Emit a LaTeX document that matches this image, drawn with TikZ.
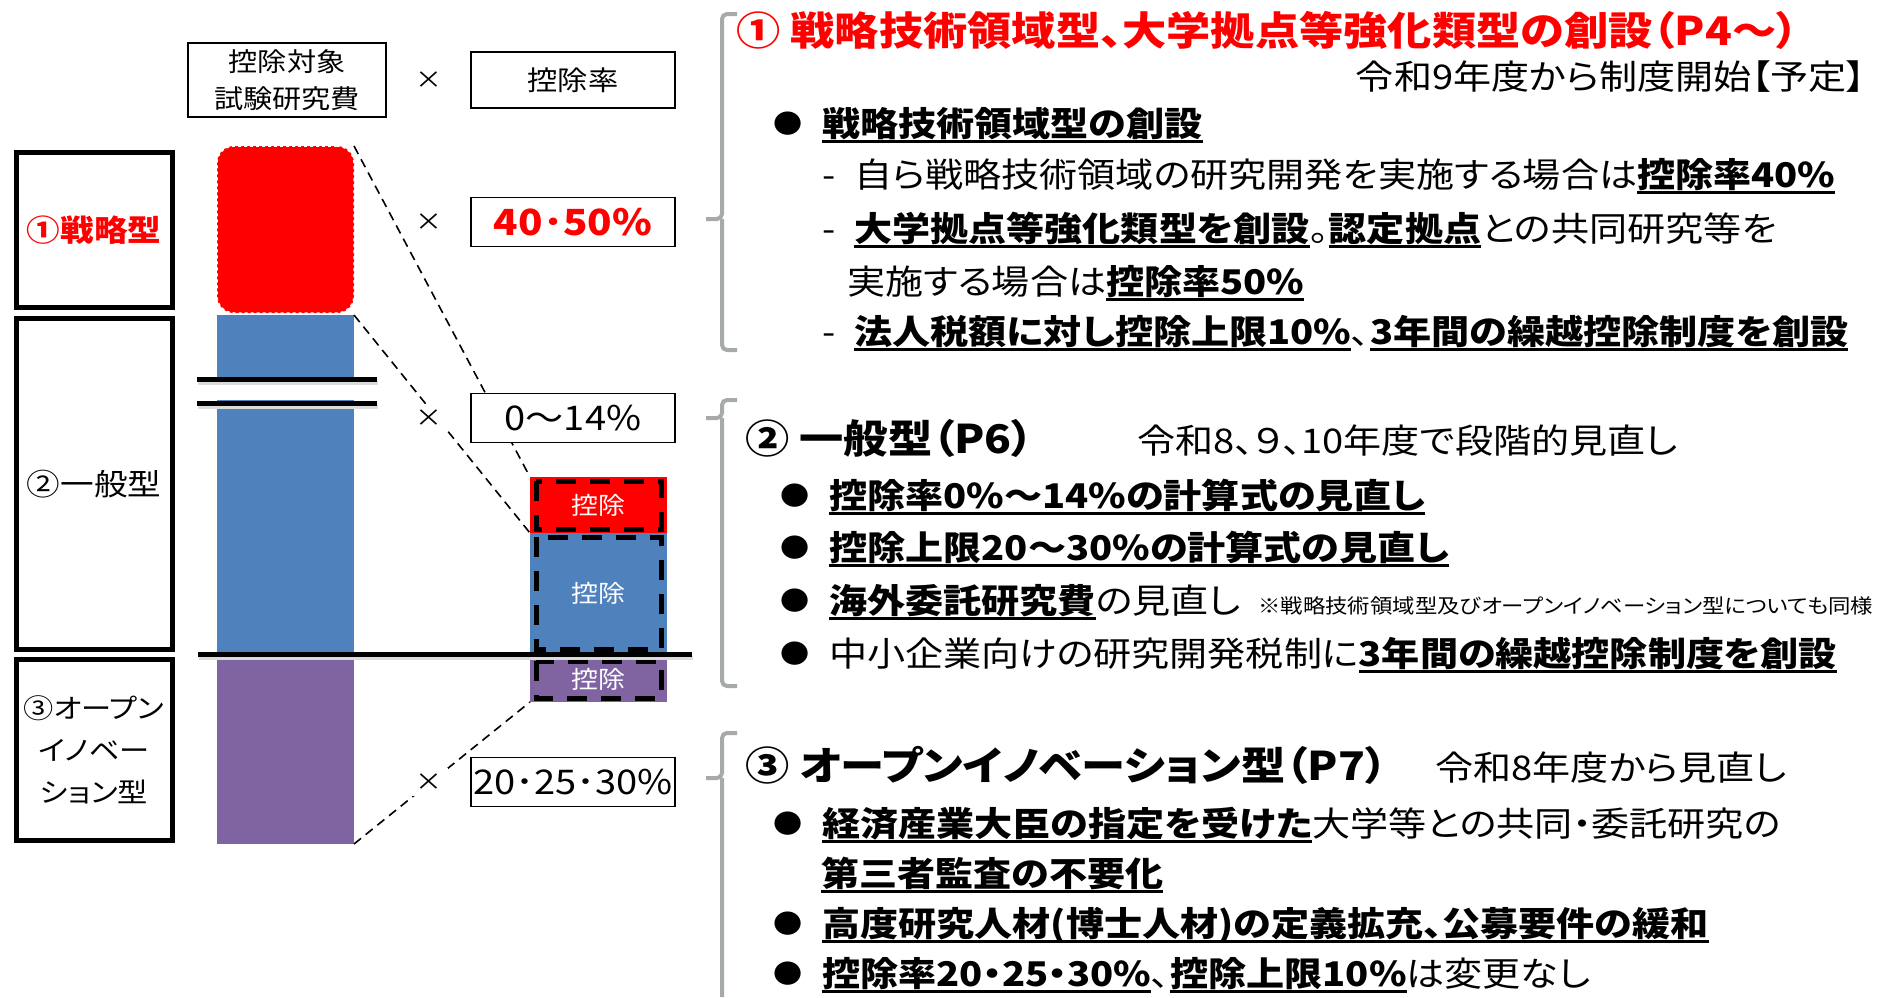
\documentclass[tikz,border=0pt]{standalone}
\usepackage{fontspec}
\setmainfont{Noto Sans CJK JP}[FakeStretch=1.12,RawFeature=+palt]
\definecolor{themered}{RGB}{255,0,0}
\definecolor{themeblue}{RGB}{79,129,189}
\definecolor{themepurple}{RGB}{128,100,162}
\definecolor{bracegray}{RGB}{166,170,169}
\newcommand\bodyfont{\fontsize{34}{40}\selectfont}
\newcommand\headfont{\fontsize{39.5}{44}\selectfont\bfseries}
\newcommand\catfont{\fontsize{30}{42}\selectfont}
\newcommand\ub[1]{\setbox0\hbox{\bfseries #1}\rlap{\rule[-0.2em]{\wd0}{2.5pt}}\box0}
\newcommand\bul{\raisebox{3pt}{\fontsize{26}{26}\selectfont ●}\hspace{20pt}}
\newcommand\dsh{-\hspace{19pt}}

\begin{document}
\begin{tikzpicture}[x=1pt,y=-1pt,
    catbox/.style={draw, line width=5pt, minimum width=156pt, inner sep=0pt, align=center, font=\catfont},
    bar/.style={minimum width=137pt, inner sep=0pt, outer sep=0pt},
    stack/.style={minimum width=137pt, inner sep=0pt, outer sep=0pt, text=white, font=\fontsize{24}{24}\selectfont},
    hbox/.style={draw, line width=1.5pt, fill=white, minimum width=204pt, minimum height=49pt, inner sep=2pt, font=\fontsize{34}{40}\selectfont},
    times/.style={fill=white, inner sep=6pt, font=\fontsize{24}{24}\selectfont},
    guide/.style={dashed, dash pattern=on 9pt off 6pt, line width=1.6pt},
    cutline/.style={line width=5pt},
    shade line/.style={line width=4pt, black!14},
    cutdash/.style={line width=5pt, dash pattern=on 20pt off 14pt},
    brace/.style={bracegray, line width=4pt, rounded corners=5pt},
    line/.style={anchor=base west, inner sep=0pt, font=\bodyfont},
    head/.style={anchor=base west, inner sep=0pt, font=\headfont},
    note/.style={anchor=base west, inner sep=0pt, font=\fontsize{20}{24}\selectfont}]
  \useasboundingbox (0,0) rectangle (1882,997);

  \node[catbox, minimum height=155pt, text=themered, font=\catfont\bfseries] (l1) at (94,230) {①戦略型};
  \node[catbox, minimum height=331pt] (l2) at (94,484) {②一般型};
  \node[catbox, minimum height=181pt, font=\fontsize{27}{42}\selectfont] (l3) at (94,750) {③オープン\\イノベー\\ション型};

  \node[bar, fill=themered, draw=white, dashed, line width=1.5pt, rounded corners=17pt, minimum height=167pt] (b1) at (285.5,229.5) {};
  \node[bar, fill=themeblue, minimum height=337pt] (b2) at (285.5,483.5) {};
  \node[bar, fill=themepurple, minimum height=187pt] (b3) at (285.5,750.5) {};

  \fill[white] (196,382) rectangle (378,400);
  \foreach \y in {379,403} {
    \draw[shade line] (198,\y+4) -- (378,\y+4);
    \draw[cutline] (197,\y) -- (377,\y);
  }

  \node[stack, fill=themered, minimum height=56pt] (s1) at (598.5,505) {控除};
  \node[stack, fill=themeblue, minimum height=120pt, below of=s1, node distance=88pt] (s2) {控除};
  \node[stack, fill=themepurple, minimum height=45pt, below of=s2, node distance=86.5pt] (s3) {控除};
  \foreach \s in {s1,s2,s3}
    \draw[cutdash] ([shift={(6,4)}]\s.north west) rectangle ([shift={(-6,-4)}]\s.south east);

  \draw[guide] (b1.north east) -- (s1.north west);
  \draw[guide] (b2.north east) -- (s2.north west);
  \draw[guide] (b3.south east) -- (s3.south west);

  \node[hbox, minimum width=198pt, minimum height=74pt, align=center, font=\fontsize{26}{37}\selectfont] (h1) at (287,80) {控除対象\\試験研究費};
  \node[times, right of=h1, node distance=142pt] (x0) {×};
  \node[hbox, right of=x0, node distance=144pt, minimum height=56pt, font=\fontsize{27}{30}\selectfont] (h2) {控除率};
  \node[times] (x1) at (429,222) {×};
  \node[hbox, right of=x1, node distance=144pt, text=themered, font=\fontsize{36}{40}\selectfont\bfseries] (r1) {40･50\%};
  \node[times] (x2) at (429,418) {×};
  \node[hbox, right of=x2, node distance=144pt] (r2) {0～14\%};
  \node[times] (x3) at (429,782) {×};
  \node[hbox, right of=x3, node distance=144pt] (r3) {20･25･30\%};

  \draw[shade line] (199,658) -- (693,658);
  \draw[cutline] (198,654) -- (692,654);

  \draw[brace] (737,14) -- (722,14) -- (722,219) -- (706,219) (722,219) -- (722,350) -- (737,350);
  \draw[brace] (737,400) -- (722,400) -- (722,418) -- (706,418) (722,418) -- (722,686) -- (737,686);
  \draw[brace] (737,733) -- (722,733) -- (722,778) -- (706,778) (722,778) -- (722,997);

  \node[head, text=themered] (t1) at (736,45) {① 戦略技術領域型、大学拠点等強化類型の創設（P4～）};
  \node[line, anchor=base east] (t1b) at (1866,89) {令和9年度から制度開始【予定】};
  \node[line] (t2) at (773,136) {\bul\ub{戦略技術領域型の創設}};
  \node[line] (t3) at (822,187) {\dsh 自ら戦略技術領域の研究開発を実施する場合は\ub{控除率40\%}};
  \node[line] (t4) at (822,241) {\dsh\ub{大学拠点等強化類型を創設}。\ub{認定拠点}との共同研究等を};
  \node[line] (t5) at (847,294) {実施する場合は\ub{控除率50\%}};
  \node[line] (t6) at (822,344) {\dsh\ub{法人税額に対し控除上限10\%}、\ub{3年間の繰越控除制度を創設}};

  \node[head] (t7) at (745,453) {② 一般型（P6）};
  \node[line] (t7b) at (1137,453) {令和8、９、10年度で段階的見直し};
  \node[line] (t8) at (780,508) {\bul\ub{控除率0\%～14\%の計算式の見直し}};
  \node[line] (t9) at (780,560) {\bul\ub{控除上限20～30\%の計算式の見直し}};
  \node[line] (t10) at (780,613) {\bul\ub{海外委託研究費}の見直し};
  \node[note] (t10b) at (1258,613) {※戦略技術領域型及びオープンイノベーション型についても同様};
  \node[line] (t11) at (780,666) {\bul 中小企業向けの研究開発税制に\ub{3年間の繰越控除制度を創設}};

  \node[head] (t12) at (745,780) {③ オープンイノベーション型（P7）};
  \node[line] (t12b) at (1435,780) {令和8年度から見直し};
  \node[line] (t13) at (773,836) {\bul\ub{経済産業大臣の指定を受けた}大学等との共同・委託研究の};
  \node[line] (t14) at (821,886) {\ub{第三者監査の不要化}};
  \node[line] (t15) at (773,936) {\bul\ub{高度研究人材(博士人材)の定義拡充、公募要件の緩和}};
  \node[line] (t16) at (773,986) {\bul\ub{控除率20・25・30\%}、\ub{控除上限10\%}は変更なし};
\end{tikzpicture}
\end{document}
